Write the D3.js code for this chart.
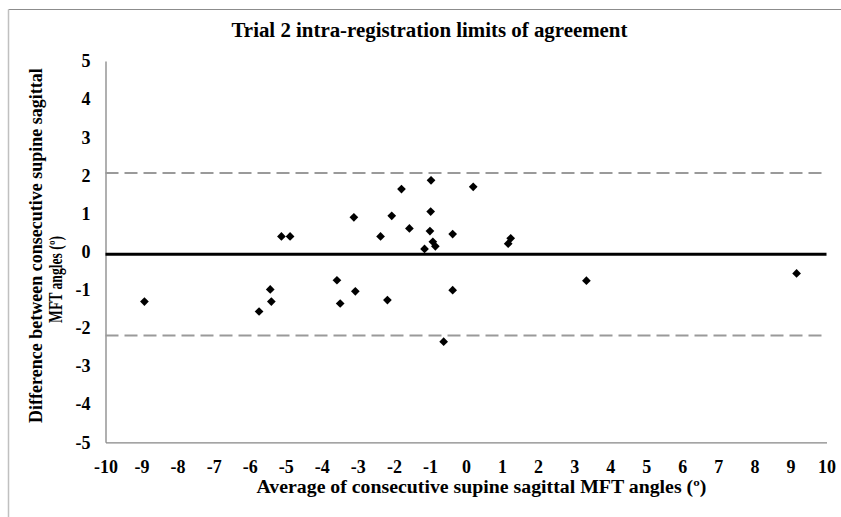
<!DOCTYPE html>
<html>
<head>
<meta charset="utf-8">
<script src="https://cdn.jsdelivr.net/npm/d3@7"></script>
<style>
  body { margin: 0; background: #fff; }
  svg text { font-family: "Liberation Serif", "Times New Roman", serif; font-weight: bold; fill: #000; }
</style>
</head>
<body>
<div id="chart"></div>
<script>
// Bland-Altman data
var avgAngles = [-8.92, -5.74, -5.43, -5.40, -5.12, -4.88, -3.58, -3.49, -3.11, -3.07,
  -2.37, -2.18, -2.06, -1.79, -1.57, -1.15, -1.00, -0.98, -0.97, -0.92,
  -0.85, -0.62, -0.37, -0.37, 0.20, 1.17, 1.24, 3.34, 9.17];
var diffAngles = [-1.31, -1.57, -0.99, -1.31, 0.40, 0.40, -0.75, -1.36, 0.90, -1.04,
  0.40, -1.27, 0.94, 1.64, 0.61, 0.07, 0.54, 1.05, 1.87, 0.26,
  0.14, -2.36, 0.46, -1.01, 1.70, 0.21, 0.35, -0.76, -0.57];
var meanDiff = -0.07;
var limits = [2.06, -2.20];
var xTicks = d3.range(-10, 11, 1);
var yTicks = d3.range(-5, 6, 1);

var svgWidth = 841;
var svgHeight = 517;

var svg = d3.select("#chart")
  .append("svg")
  .attr("width", svgWidth)
  .attr("height", svgHeight);

// chart frame
svg.append("line").attr("x1", 8.5).attr("x2", 841).attr("y1", 9.5).attr("y2", 9.5)
  .attr("stroke", "#8c8c8c").attr("stroke-width", 1);
svg.append("line").attr("x1", 8.5).attr("x2", 8.5).attr("y1", 9.5).attr("y2", 517)
  .attr("stroke", "#c0c0c0").attr("stroke-width", 1.5);

var xScale = d3.scaleLinear().domain([-10, 10]).range([105.5, 826.5]);
var yScale = d3.scaleLinear().domain([-5, 5]).range([442.3, 61]);

// axes (plain hyphen minus like the original)
var fmt = d => String(d);
var xAxis = svg.append("g")
  .attr("transform", `translate(0, ${yScale(-5)})`)
  .call(d3.axisBottom(xScale).tickValues(xTicks).tickFormat(fmt).tickSize(0).tickPadding(18));
var yAxis = svg.append("g")
  .attr("transform", `translate(${xScale(-10)}, 0)`)
  .call(d3.axisLeft(yScale).tickValues(yTicks).tickFormat(fmt).tickSize(0).tickPadding(15));

[xAxis, yAxis].forEach(function(ax) {
  ax.attr("font-size", null).attr("font-family", null);
  ax.select(".domain").attr("stroke", "#868686").attr("stroke-width", 1.3);
  ax.selectAll("text")
    .style("font-size", "18px")
    .style("font-family", "'Liberation Serif', 'Times New Roman', serif")
    .style("font-weight", "bold");
});

// limits of agreement
svg.selectAll(".loa")
  .data(limits)
  .enter()
  .append("line")
  .attr("class", "loa")
  .attr("x1", xScale(-10))
  .attr("x2", xScale(10))
  .attr("y1", d => yScale(d))
  .attr("y2", d => yScale(d))
  .attr("stroke", "#9a9a9a")
  .attr("stroke-width", 2)
  .attr("stroke-dasharray", "13,6");

// mean difference
svg.append("line")
  .attr("x1", xScale(-10))
  .attr("x2", xScale(10))
  .attr("y1", yScale(meanDiff))
  .attr("y2", yScale(meanDiff))
  .attr("stroke", "#000")
  .attr("stroke-width", 3);

// points
var diamond = d3.symbol().type(d3.symbolSquare).size(38);
svg.selectAll(".pt")
  .data(avgAngles)
  .enter()
  .append("path")
  .attr("class", "pt")
  .attr("d", diamond)
  .attr("transform", (d, i) => `translate(${xScale(d)}, ${yScale(diffAngles[i])}) rotate(45)`)
  .attr("fill", "#000");

// text squeezed horizontally to the width seen in the picture
function squeezedText(str, size, x, y, width, angle) {
  var t = svg.append("text").style("font-size", size + "px").text(str);
  var sx = width / t.node().getComputedTextLength();
  t.attr("transform", `translate(${x}, ${y}) rotate(${angle}) scale(${sx}, 1)`);
  return t;
}

squeezedText("Trial 2 intra-registration limits of agreement", 20, 231.5, 37, 396, 0);
squeezedText("Average of consecutive supine sagittal MFT angles (º)", 18, 256.5, 493, 450, 0);
squeezedText("Difference between consecutive supine sagittal", 18, 41.5, 423, 355, -90);
squeezedText("MFT angles (º)", 18, 61.5, 323, 87, -90);
</script>
</body>
</html>
